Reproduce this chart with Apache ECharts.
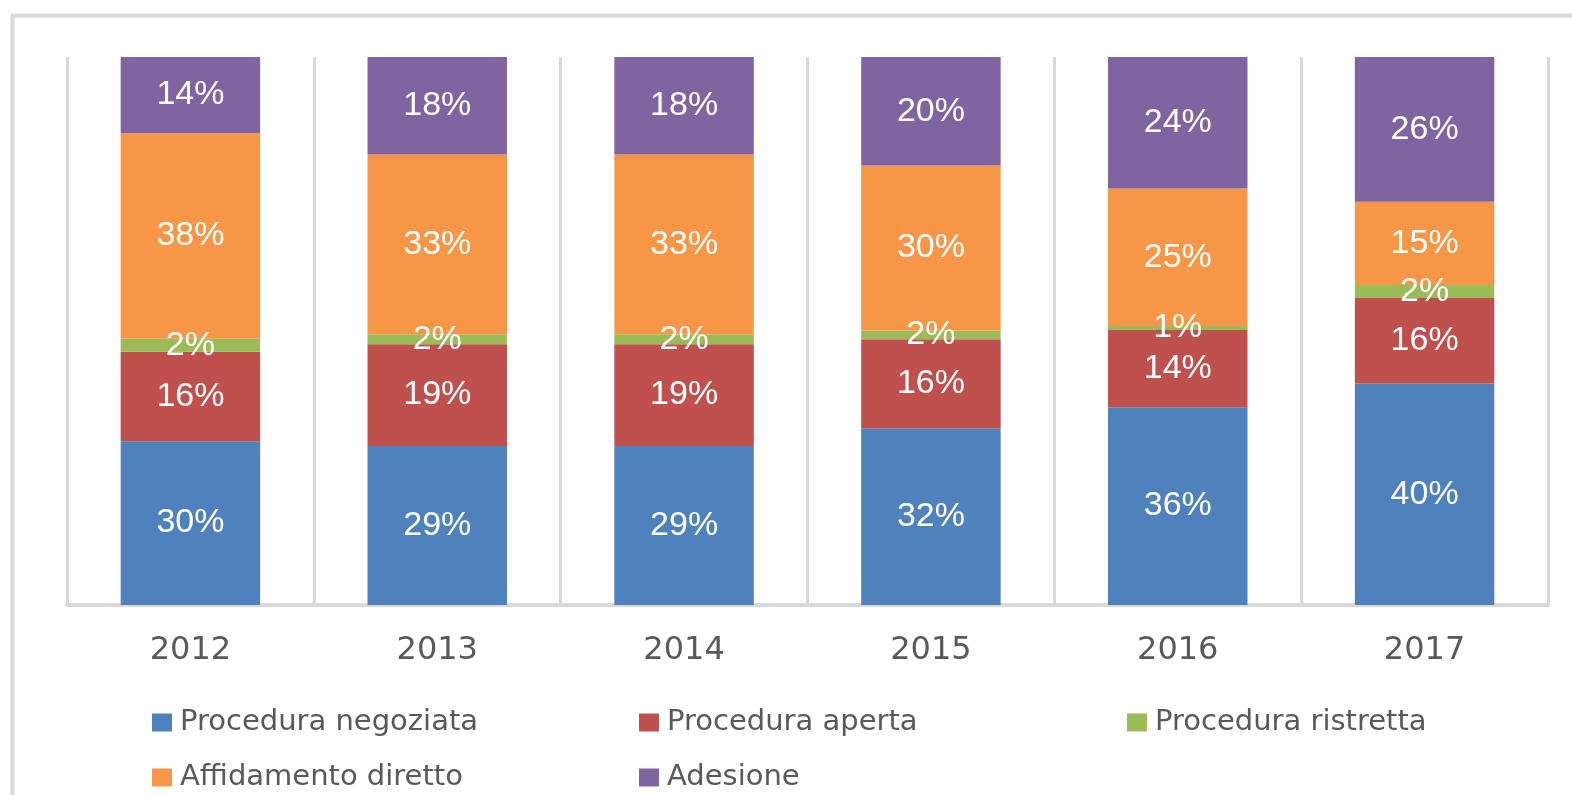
<!DOCTYPE html>
<html>
<head>
<meta charset="utf-8">
<script src="https://cdn.jsdelivr.net/npm/echarts@6/dist/echarts.min.js"></script>
<style>
  html, body { margin: 0; padding: 0; background: #fff; }
  #main { width: 1572px; height: 795px; }
</style>
</head>
<body>
<div id="main"></div>
<script>
// anni
var years = ['2012', '2013', '2014', '2015', '2016', '2017'];
// quote percentuali
var negoziata  = [29.9, 29.0, 29.0, 32.2, 36.1, 40.4];
var aperta     = [16.3, 18.6, 18.6, 16.3, 14.1, 15.6];
var ristretta  = [2.4, 1.8, 1.8, 1.6, 0.7, 2.4];
var affidamento = [37.5, 32.8, 32.8, 30.1, 25.1, 15.2];
var adesione   = [13.9, 17.8, 17.8, 19.8, 24.0, 26.4];

var names = ['Procedura negoziata', 'Procedura aperta', 'Procedura ristretta', 'Affidamento diretto', 'Adesione'];
var colors = ['#4F81BD', '#C0504D', '#9BBB59', '#F79646', '#8064A2'];
var values = [negoziata, aperta, ristretta, affidamento, adesione];

var chart = echarts.init(document.getElementById('main'));

var series = names.map(function (n, i) {
  return {
    name: n,
    type: 'bar',
    stack: 'tot',
    barWidth: '56.5%',
    itemStyle: { color: colors[i] },
    label: {
      show: true,
      position: 'inside',
      color: '#fff',
      fontFamily: 'Liberation Sans',
      fontSize: 34,
      formatter: function (p) { return Math.round(p.value) + '%'; }
    },
    data: values[i]
  };
});

// legenda su due righe, tre colonne
var legPos = [[152, 708], [639, 708], [1127, 708], [152, 763], [639, 763]];
var legends = names.map(function (n, i) {
  return {
    left: legPos[i][0],
    top: legPos[i][1],
    itemWidth: 20,
    itemHeight: 18,
    icon: 'rect',
    padding: 0,
    textStyle: { color: '#595959', fontFamily: 'DejaVu Sans', fontSize: 29, padding: [0, 0, 0, 3] },
    data: [n]
  };
});

chart.setOption({
  animation: false,
  graphic: [{
    type: 'rect',
    left: 10, top: 13,
    shape: { width: 1700, height: 900 },
    style: { fill: 'none', stroke: '#d9d9d9', lineWidth: 4 },
    silent: true
  }],
  legend: legends,
  grid: { left: 67, right: 24, top: 57, bottom: 190 },
  xAxis: {
    type: 'category',
    data: years,
    axisLine: { lineStyle: { color: '#d9d9d9', width: 4 } },
    axisTick: { show: false },
    splitLine: { show: true, lineStyle: { color: '#d9d9d9', width: 3 } },
    axisLabel: { color: '#595959', fontFamily: 'DejaVu Sans', fontSize: 32, margin: 30 }
  },
  yAxis: {
    type: 'value',
    min: 0,
    max: 100,
    show: false
  },
  series: series
});
</script>
</body>
</html>
